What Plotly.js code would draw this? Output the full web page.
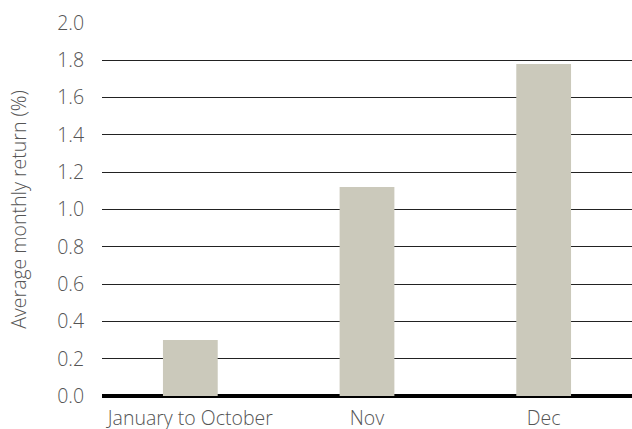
<!DOCTYPE html>
<html><head><meta charset="utf-8">
<script src="https://cdn.plot.ly/plotly-3.0.1.min.js"></script>
<style>html,body{margin:0;padding:0;background:#fff}#c{width:632px;height:429px}</style>
</head><body><div id="c"></div>
<script>
const categories = ["January to October", "Nov", "Dec"];
const values = [0.30, 1.12, 1.78];
const yTicks = [0, 0.2, 0.4, 0.6, 0.8, 1.0, 1.2, 1.4, 1.6, 1.8, 2.0];
const yTickLabels = ["0.0","0.2","0.4","0.6","0.8","1.0","1.2","1.4","1.6","1.8","2.0"];
const yTitle = "Average monthly return (%)";

const font = {family: "Open Sans, sans-serif", size: 19.5, color: "#555555", weight: 300};
const titleFont = {family: "Open Sans, sans-serif", size: 19.5, color: "#555555", weight: 300};
Plotly.newPlot("c", [{
  type: "bar", x: categories, y: values,
  marker: {color: "#cbc9bb"}, width: 0.31, hoverinfo: "none"
}], {
  width: 632, height: 429,
  margin: {l: 102, r: 0, t: 23, b: 33},
  paper_bgcolor: "#fff", plot_bgcolor: "#fff",
  showlegend: false,
  font: font,
  xaxis: {
    type: "category", showgrid: false, zeroline: false, showline: false,
    ticks: "outside", ticklen: 5, tickcolor: "rgba(0,0,0,0)",
    tickfont: font
  },
  yaxis: {
    range: [0, 2.0], tickmode: "array", tickvals: yTicks, ticktext: yTickLabels,
    showgrid: true, gridcolor: "#222222", gridwidth: 1,
    zeroline: true, zerolinecolor: "#000000", zerolinewidth: 4,
    showline: false, ticks: "outside", ticklen: 13, tickcolor: "rgba(0,0,0,0)",
    tickfont: font,
    title: {text: yTitle, font: titleFont, standoff: 25}
  }
}, {displayModeBar: false, staticPlot: true});
</script></body></html>
